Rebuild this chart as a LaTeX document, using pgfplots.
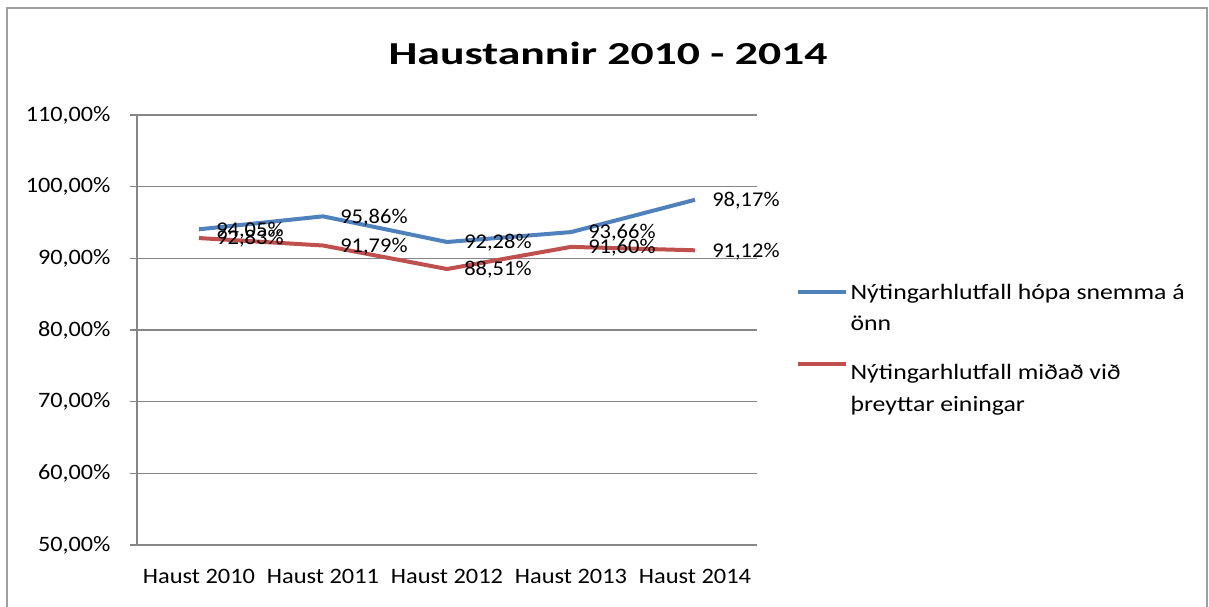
\documentclass[border=0pt]{standalone}
\usepackage{fontspec}
\setmainfont{Carlito}
\newfontfamily\titlefont[FakeStretch=1.43]{Carlito}
\newfontfamily\xtickfont[FakeStretch=1.11]{Carlito}
\newfontfamily\ytickfont[FakeStretch=1.1]{Carlito}
\newfontfamily\labelfont[FakeStretch=1.07]{Carlito}
\newfontfamily\legfont[FakeStretch=1.17]{Carlito}
\usepackage{pgfplots}
\pgfplotsset{compat=1.18}
\definecolor{xlblue}{HTML}{4F81BD}
\definecolor{xlred}{HTML}{C0504D}
\definecolor{gridgray}{HTML}{868686}
\begin{document}
\begin{tikzpicture}[x=1pt,y=1pt]
\useasboundingbox (0,0) rectangle (1209,606);
\draw[color=gray!75, line width=2pt] (7,-2) -- (7,598) -- (1207,598) -- (1207,-2);
\node[font=\titlefont\fontsize{32}{38}\selectfont\bfseries] at (608,553) {Haustannir 2010 - 2014};
\begin{axis}[
  at={(137pt,61pt)}, anchor=south west, scale only axis,
  width=620pt, height=430pt,
  xmin=-0.5, xmax=4.5, ymin=50, ymax=110,
  ytick={50,60,...,110},
  xtick={0,...,4},
  xticklabels={Haust 2010,Haust 2011,Haust 2012,Haust 2013,Haust 2014},
  x tick style={draw=none},
  extra x ticks={-0.5,0.5,1.5,2.5,3.5,4.5},
  extra x tick labels={},
  extra x tick style={grid=none, tick style={draw=gridgray, line width=1.2pt}},
  major tick length=7pt,
  tick align=outside,
  y tick style={draw=gridgray, line width=1.2pt},
  ymajorgrids, grid style={gridgray, line width=1.2pt},
  axis x line*=bottom, axis y line*=left,
  axis line style={gridgray, line width=1.2pt, -},
  xticklabel style={font=\xtickfont\fontsize{22}{26}\selectfont, text=black, yshift=-14pt},
  yticklabel style={font=\ytickfont\fontsize{22}{26}\selectfont, text=black, xshift=-16pt},
  /pgf/number format/assume math mode=true,
  yticklabel={\pgfmathprintnumber[fixed,fixed zerofill,precision=2,use comma]{\tick}\%},
  nodes near coords={\pgfmathprintnumber[fixed,fixed zerofill,precision=2,use comma]{\pgfplotspointmeta}\%},
  point meta=y,
  every node near coord/.append style={font=\labelfont\fontsize{21}{24}\selectfont, text=black, anchor=west, xshift=12pt, yshift=-1pt},
  legend style={draw=none, fill=none, at={(1.057,0.612)}, anchor=north west,
    row sep=15pt, font=\legfont\fontsize{22}{26}\selectfont,
    nodes={inner xsep=3pt, inner ysep=0pt}},
  legend cell align=left,
  legend image code/.code={\draw[#1] (0pt,0pt) -- (48pt,0pt);},
  clip=false,
]
\addplot[xlblue, line width=4pt, line join=round] coordinates {
  (0,94.05) (1,95.86) (2,92.28) (3,93.66) (4,98.17)};
\addlegendentry{\rule[-6pt]{0pt}{20pt}Nýtingarhlutfall hópa snemma á}
\addlegendimage{empty legend}
\addlegendentry{\rule[-6pt]{0pt}{20pt}önn}
\addplot[xlred, line width=4pt, line join=round] coordinates {
  (0,92.83) (1,91.79) (2,88.51) (3,91.60) (4,91.12)};
\addlegendentry{\rule[-6pt]{0pt}{39pt}Nýtingarhlutfall miðað við}
\addlegendimage{empty legend}
\addlegendentry{\rule[-6pt]{0pt}{18pt}þreyttar einingar}
\end{axis}
\end{tikzpicture}
\end{document}
